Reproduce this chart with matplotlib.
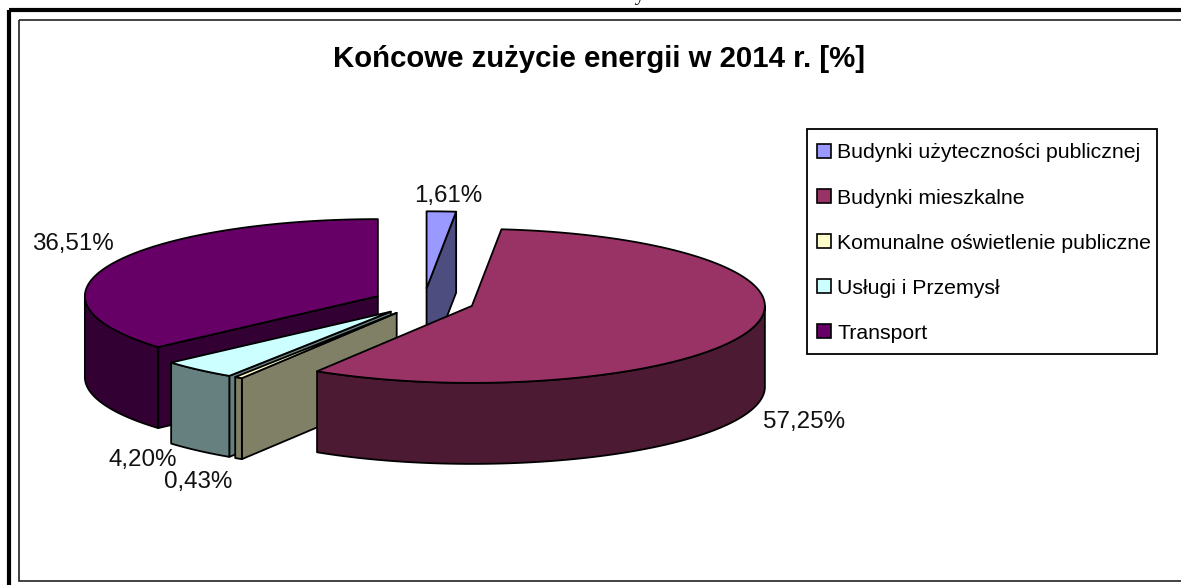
# Końcowe zużycie energii - kołowy wykres 3D rysowany w układzie pikseli.

import numpy as np
import matplotlib
matplotlib.use('Agg')
import matplotlib.pyplot as plt
from matplotlib.patches import Patch, Polygon, Rectangle

plt.rcParams['font.family'] = ['Liberation Sans', 'DejaVu Sans']

title = 'Końcowe zużycie energii w 2014 r. [%]'
categories = ['Budynki użyteczności publicznej', 'Budynki mieszkalne',
              'Komunalne oświetlenie publiczne', 'Usługi i Przemysł', 'Transport']
values = [1.61, 57.25, 0.43, 4.20, 36.51]
top_colors = ['#9999FF', '#993366', '#FFFFCC', '#CCFFFF', '#660066']
side_colors = ['#4D4D80', '#4D1A33', '#808066', '#668080', '#330033']
label_pos = [(448, 196), (804, 422), (198, 482), (143, 460), (73, 244)]
draw_order = [4, 3, 2, 0, 1]

# geometria w pikselach
CX, CY = 424, 301.6
RX, RY = 293, 77
DEPTH = 81
EXPLODE = 50.6


def ellipse_points(cx, cy, a0, a1, n=120):
    t = np.radians(np.linspace(a0, a1, n))
    return np.column_stack([cx + RX * np.sin(t), cy - RY * np.cos(t)])


def draw_slice(ax, a0, a1, top, side):
    mid = np.radians((a0 + a1) / 2)
    cx = CX + EXPLODE * np.sin(mid)
    cy = CY - EXPLODE * RY / RX * np.cos(mid)
    down = np.array([0, DEPTH])
    apex = np.array([cx, cy])
    style = dict(edgecolor='black', linewidth=1.3, joinstyle='round')

    # ściany radialne widoczne od strony patrzącego
    for ang, visible in ((a0, np.sin(np.radians(a0)) < 0), (a1, np.sin(np.radians(a1)) > 0)):
        if visible:
            p = ellipse_points(cx, cy, ang, ang, 1)[0]
            ax.add_patch(Polygon([apex, p, p + down, apex + down], facecolor=side, **style))

    # zewnętrzna ściana łuku
    lo, hi = max(a0, 90), min(a1, 270)
    if lo < hi:
        arc = ellipse_points(cx, cy, lo, hi)
        ax.add_patch(Polygon(np.vstack([arc, (arc + down)[::-1]]), facecolor=side, **style))

    # wierzch
    ax.add_patch(Polygon(np.vstack([[apex], ellipse_points(cx, cy, a0, a1)]), facecolor=top, **style))


def main():
    fig = plt.figure(figsize=(11.81, 5.85), dpi=100)
    ax = fig.add_axes([0, 0, 1, 1])
    ax.set_xlim(0, 1181)
    ax.set_ylim(585, 0)
    ax.axis('off')

    # ramki
    ax.add_patch(Rectangle((9, 10), 1300, 700, fill=False, edgecolor='black', linewidth=3))
    ax.add_patch(Rectangle((18.5, 19.5), 1300, 561.5, fill=False, edgecolor='#222222', linewidth=1.2))
    ax.text(645, 0, 'odbiorcy', family='Liberation Serif', fontsize=15, ha='right', va='baseline')

    ax.text(599, 59, title, fontsize=21.2, fontweight='bold', ha='center', va='center')

    edges = np.concatenate([[0], np.cumsum(values)]) / sum(values) * 360
    for i in draw_order:
        draw_slice(ax, edges[i], edges[i + 1], top_colors[i], side_colors[i])

    for val, pos in zip(values, label_pos):
        ax.text(pos[0], pos[1], f'{val:.2f}%'.replace('.', ','), fontsize=17.4,
                ha='center', va='center', color='#111111')

    # ramka legendy osobno, bo wcięcia nie są symetryczne
    ax.add_patch(Rectangle((807, 129), 350, 225, facecolor='white', edgecolor='black', linewidth=1.3))
    handles = [Patch(facecolor=c, edgecolor='black', linewidth=1.2) for c in top_colors]
    ax.legend(handles, categories, loc='upper left', bbox_to_anchor=(817, 143.5),
              bbox_transform=ax.transData, fontsize=15.35, frameon=False, borderaxespad=0,
              borderpad=0, labelspacing=1.22, handlelength=0.66, handleheight=0.66,
              handletextpad=0.28)

    fig.savefig('out.png', dpi=100)


if __name__ == '__main__':
    main()
